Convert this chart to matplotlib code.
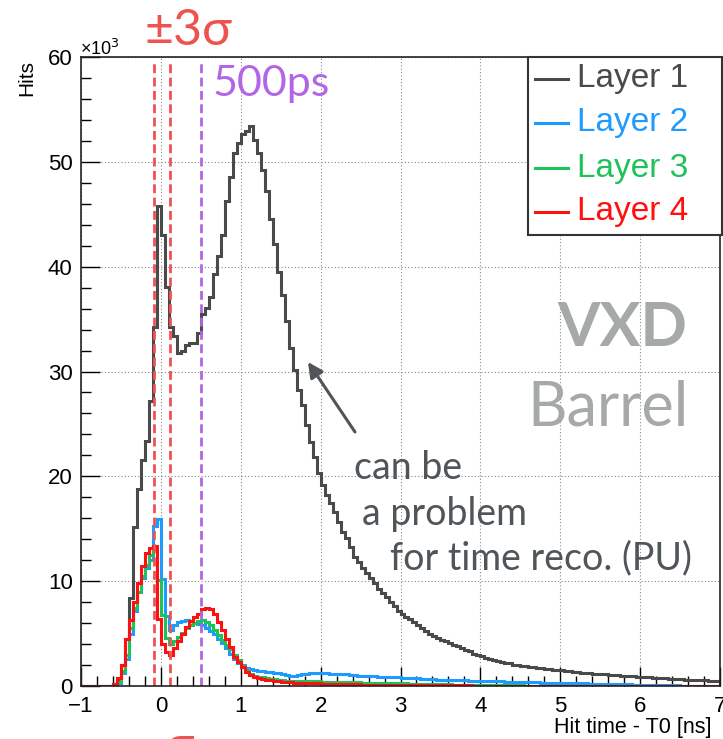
import numpy as np
import matplotlib
matplotlib.use("Agg")
import matplotlib.pyplot as plt
from matplotlib.ticker import MultipleLocator
from matplotlib.lines import Line2D
from matplotlib.patches import Rectangle

# ---------------- data (bin contents in units of 10^3 hits) ----------------
bin_lo, bin_hi, n_bins = -1.0, 7.0, 160

layer1 = [0, 0, 0, 0, 0, 0, 0, 0, 0.2, 0.7,
          2.0, 4.5, 8.35, 15.2, 18.8, 21.6, 23.4, 27.2, 34.2, 45.8,
          43.0, 38.1, 34.2, 33.4, 31.8, 32.0, 32.5, 32.7, 32.7, 33.7,
          35.5, 36.1, 37.1, 39.3, 41.0, 43.0, 46.3, 48.6, 50.8, 51.8,
          52.7, 52.9, 53.4, 52.1, 50.8, 49.2, 47.2, 44.5, 42.2, 39.5,
          37.3, 34.8, 32.2, 30.1, 28.2, 26.8, 24.9, 23.3, 21.8, 20.3,
          19.2, 18.2, 17.5, 16.6, 15.6, 14.7, 14.1, 13.3, 12.3, 11.8,
          11.3, 10.8, 10.3, 9.8, 9.3, 8.9, 8.5, 8.0, 7.6, 7.2,
          6.9, 6.6, 6.35, 6.1, 5.8, 5.5, 5.2, 4.95, 4.75, 4.55,
          4.4, 4.25, 4.1, 3.95, 3.8, 3.65, 3.45, 3.3, 3.1, 2.95,
          2.85, 2.7, 2.55, 2.45, 2.35, 2.3, 2.2, 2.15, 2.05, 2.0,
          1.95, 1.9, 1.85, 1.8, 1.72, 1.68, 1.62, 1.58, 1.55, 1.52,
          1.5, 1.45, 1.4, 1.35, 1.32, 1.28, 1.25, 1.2, 1.17, 1.15,
          1.12, 1.1, 1.07, 1.04, 1.02, 1.0, 0.97, 0.95, 0.92, 0.9,
          0.88, 0.85, 0.82, 0.8, 0.78, 0.75, 0.72, 0.7, 0.68, 0.65,
          0.63, 0.62, 0.6, 0.58, 0.57, 0.55, 0.53, 0.52, 0.5, 0.48]

layer2 = [0, 0, 0, 0, 0, 0, 0, 0, 0.0, 0.3,
          1.2, 2.6, 5.0, 7.2, 9.0, 10.3, 11.3, 12.0, 15.3, 15.9,
          10.2, 6.7, 5.3, 5.8, 6.1, 6.2, 6.3, 6.2, 6.0, 5.9,
          5.8, 5.5, 5.2, 5.0, 4.5, 4.1, 3.6, 3.1, 2.6, 2.2,
          2.0, 1.7, 1.6, 1.55, 1.45, 1.4, 1.35, 1.3, 1.25, 1.2,
          1.1, 1.05, 1.0, 1.0, 1.05, 1.1, 1.15, 1.2, 1.2, 1.2,
          1.2, 1.2, 1.15, 1.15, 1.1, 1.1, 1.1, 1.05, 1.05, 1.0,
          1.0, 1.0, 0.95, 0.95, 0.9, 0.9, 0.9, 0.85, 0.85, 0.83,
          0.8, 0.78, 0.76, 0.74, 0.72, 0.7, 0.68, 0.66, 0.64, 0.62,
          0.6, 0.58, 0.57, 0.56, 0.55, 0.54, 0.53, 0.52, 0.51, 0.5,
          0.48, 0.47, 0.46, 0.45, 0.44, 0.43, 0.42, 0.41, 0.4, 0.39,
          0.38, 0.37, 0.36, 0.35, 0.34, 0.33, 0.32, 0.31, 0.3, 0.3,
          0.3, 0.29, 0.28, 0.27, 0.26, 0.25, 0.24, 0.23, 0.22, 0.21,
          0.2, 0.2, 0.19, 0.18, 0.17, 0.16, 0.15, 0.15, 0.14, 0.14,
          0.13, 0.12, 0.11, 0.1, 0.09, 0.08, 0.07, 0.06, 0.05, 0.05,
          0.04, 0.04, 0.03, 0.03, 0.02, 0.02, 0.02, 0.01, 0.01, 0.01]

layer3 = [0, 0, 0, 0, 0, 0, 0, 0, 0.0, 0.4,
          1.4, 3.0, 5.5, 7.4, 9.0, 10.5, 11.5, 12.5, 13.1, 10.1,
          6.8, 4.6, 4.0, 4.3, 4.7, 5.1, 5.5, 5.8, 6.0, 6.2,
          6.3, 6.1, 5.8, 5.3, 4.9, 4.4, 3.9, 3.5, 3.0, 2.5,
          1.9, 1.4, 1.1, 0.95, 0.9, 0.85, 0.75, 0.7, 0.65, 0.6,
          0.55, 0.52, 0.5, 0.48, 0.47, 0.46, 0.45, 0.45, 0.44, 0.43,
          0.42, 0.41, 0.4, 0.4, 0.39, 0.38, 0.37, 0.36, 0.35, 0.34,
          0.33, 0.32, 0.31, 0.3, 0.29, 0.28, 0.28, 0.27, 0.26, 0.25,
          0.25, 0.24, 0.23, 0.22, 0.21, 0.2, 0.2, 0.19, 0.18, 0.17,
          0.16, 0.15, 0.15, 0.14, 0.13, 0.12, 0.12, 0.11, 0.1, 0.1,
          0.09, 0.09, 0.08, 0.08, 0.07, 0.07, 0.06, 0.06, 0.05, 0.05,
          0.05, 0.04, 0.04, 0.04, 0.03, 0.03, 0.03, 0.03, 0.02, 0.02,
          0.02, 0.02, 0.02, 0.02, 0.01, 0.01, 0.01, 0.01, 0.01, 0.01,
          0.01, 0.01, 0.01, 0.01, 0.01, 0.01, 0.01, 0.01, 0.01, 0.01,
          0.01, 0.01, 0.01, 0.01, 0.01, 0.01, 0.01, 0.01, 0.01, 0.01,
          0.01, 0.01, 0.01, 0.01, 0.01, 0.01, 0.01, 0.01, 0.01, 0.01]

layer4 = [0, 0, 0, 0, 0, 0, 0, 0, 0.2, 0.8,
          2.0, 4.5, 6.3, 8.0, 9.8, 11.4, 12.7, 13.2, 13.4, 6.4,
          4.0, 3.2, 3.0, 3.6, 4.3, 5.0, 5.6, 6.2, 6.6, 6.9,
          7.3, 7.4, 7.3, 6.9, 6.1, 5.3, 4.5, 3.7, 2.8, 2.3,
          1.8, 1.36, 1.05, 0.9, 0.8, 0.7, 0.6, 0.55, 0.5, 0.45,
          0.4, 0.38, 0.35, 0.33, 0.3, 0.3, 0.28, 0.27, 0.25, 0.25,
          0.22, 0.21, 0.2, 0.2, 0.19, 0.18, 0.17, 0.16, 0.15, 0.15,
          0.14, 0.14, 0.13, 0.13, 0.12, 0.12, 0.12, 0.11, 0.11, 0.1,
          0.1, 0.1, 0.09, 0.09, 0.09, 0.08, 0.08, 0.08, 0.07, 0.07,
          0.07, 0.06, 0.06, 0.06, 0.05, 0.05, 0.05, 0.05, 0.04, 0.04,
          0.04, 0.04, 0.03, 0.03, 0.03, 0.03, 0.03, 0.02, 0.02, 0.02,
          0.02, 0.02, 0.02, 0.02, 0.01, 0.01, 0.01, 0.01, 0.01, 0.01,
          0.01, 0.01, 0.01, 0.01, 0.01, 0.01, 0.01, 0.01, 0.01, 0.01,
          0.01, 0.01, 0.01, 0.01, 0.01, 0.01, 0.01, 0.01, 0.01, 0.01,
          0.01, 0.01, 0.01, 0.01, 0.01, 0.01, 0.01, 0.01, 0.01, 0.01,
          0.01, 0.01, 0.01, 0.01, 0.01, 0.01, 0.01, 0.01, 0.01, 0.01]

labels = ["Layer 1", "Layer 2", "Layer 3", "Layer 4"]
colors = ["#4a4a4a", "#1e9bff", "#1ec25a", "#ff1010"]

sigma_lines = [-0.09, 0.11]
ps_line = 0.5

x_ticks = [-1, 0, 1, 2, 3, 4, 5, 6, 7]
y_ticks = [0, 10, 20, 30, 40, 50, 60]

# ---------------- figure ----------------
W, H = 723, 739
fig = plt.figure(figsize=(W / 100, H / 100), dpi=100)
L, R, T, B = 81, 720, 57, 686
ax = fig.add_axes([L / W, 1 - B / H, (R - L) / W, (B - T) / H])


def fx(px):
    return px / W


def fy(py):
    return 1 - py / H


edges = np.linspace(bin_lo, bin_hi, n_bins + 1)
for vals, lab, col in zip([layer1, layer2, layer3, layer4], labels, colors):
    ax.stairs(vals, edges, color=col, linewidth=2.2, label=lab, baseline=0)

ax.set_xlim(bin_lo, bin_hi)
ax.set_ylim(0, 60)

# dashed reference lines
for xv in sigma_lines:
    ax.axvline(xv, color="#ef5350", linestyle=(0, (3.2, 1.6)), linewidth=2.0, ymax=0.995)
ax.axvline(ps_line, color="#b266e6", linestyle=(0, (3.2, 1.6)), linewidth=2.0, ymax=0.995)

# ticks & grid (ROOT-like)
tick_font = "Liberation Sans"
ax.set_xticks(x_ticks)
ax.set_yticks(y_ticks)
ax.set_xticklabels([("\u2212" + str(abs(v))) if v < 0 else str(v) for v in x_ticks],
                   fontfamily=tick_font, fontsize=16)
ax.set_yticklabels([str(v) for v in y_ticks], fontfamily=tick_font, fontsize=16)
ax.xaxis.set_minor_locator(MultipleLocator(0.2))
ax.yaxis.set_minor_locator(MultipleLocator(2))
ax.tick_params(which="major", direction="in", length=14, width=1.0, color="black")
ax.tick_params(axis="x", which="major", pad=7)
ax.tick_params(axis="y", which="major", pad=6)
ax.tick_params(which="minor", direction="in", length=7.5, width=1.0, color="black")
ax.grid(which="major", color="#888888", linestyle=(0, (1, 2)), linewidth=0.8)
ax.set_axisbelow(True)
for s in ax.spines.values():
    s.set_linewidth(1.2)
    s.set_color("#222222")

fig.text(fx(80), fy(55), "\u00d710$^{3}$", fontfamily=tick_font, fontsize=13,
         ha="left", va="baseline")
fig.text(fx(27), fy(78), "Hits", fontfamily=tick_font, fontsize=15, rotation=90,
         ha="center", va="center")
fig.text(fx(712), fy(727), "Hit time - T0 [ns]", fontfamily=tick_font, fontsize=15.5,
         ha="right", va="center")

# legend box (ROOT TLegend look)
fig.patches.append(Rectangle((fx(528), fy(235)), fx(722) - fx(528), fy(57) - fy(235),
                             transform=fig.transFigure, facecolor="white",
                             edgecolor="#333333", linewidth=1.5, zorder=5))
rows_y = [79, 123, 168, 212]
for lab, col, ry in zip(labels, colors, rows_y):
    fig.lines.append(Line2D([fx(535), fx(568)], [fy(ry), fy(ry)], color=col,
                            linewidth=2.2, transform=fig.transFigure, zorder=6))
    fig.text(fx(577), fy(ry), lab, color=col, fontfamily=tick_font, fontsize=24,
             ha="left", va="center", zorder=7)

# annotations
ann_font = ["Lato", "DejaVu Sans"]
fig.text(fx(188), fy(31), "\u00b13\u03c3", color="#ef5350", fontsize=36,
         fontfamily=ann_font, ha="center", va="center")
fig.text(fx(271), fy(84), "500ps", color="#b266e6", fontsize=31,
         fontfamily=ann_font, ha="center", va="center")
fig.text(fx(622), fy(328), "VXD", color="#a5a9a8", fontsize=44,
         fontfamily=ann_font, fontweight="bold", ha="center", va="center")
fig.text(fx(608), fy(408), "Barrel", color="#a5a9a8", fontsize=44,
         fontfamily=ann_font, ha="center", va="center")
fig.text(fx(354), fy(468), "can be", color="#50555a", fontsize=27,
         fontfamily=ann_font, ha="left", va="center")
fig.text(fx(362), fy(514), "a problem", color="#50555a", fontsize=27,
         fontfamily=ann_font, ha="left", va="center")
fig.text(fx(390), fy(558), "for time reco. (PU)", color="#50555a", fontsize=27,
         fontfamily=ann_font, ha="left", va="center")
fig.text(fx(180), fy(726), "\u03c3", color="#ef5350", fontsize=34,
         fontfamily=ann_font, ha="center", va="top")

ax.annotate("", xy=(fx(308), fy(362)), xytext=(fx(355), fy(432)),
            xycoords="figure fraction", textcoords="figure fraction",
            arrowprops=dict(arrowstyle="-|>,head_length=0.9,head_width=0.45",
                            color="#50555a", linewidth=2.2, shrinkA=0, shrinkB=0))

fig.savefig("out.png", dpi=100)
